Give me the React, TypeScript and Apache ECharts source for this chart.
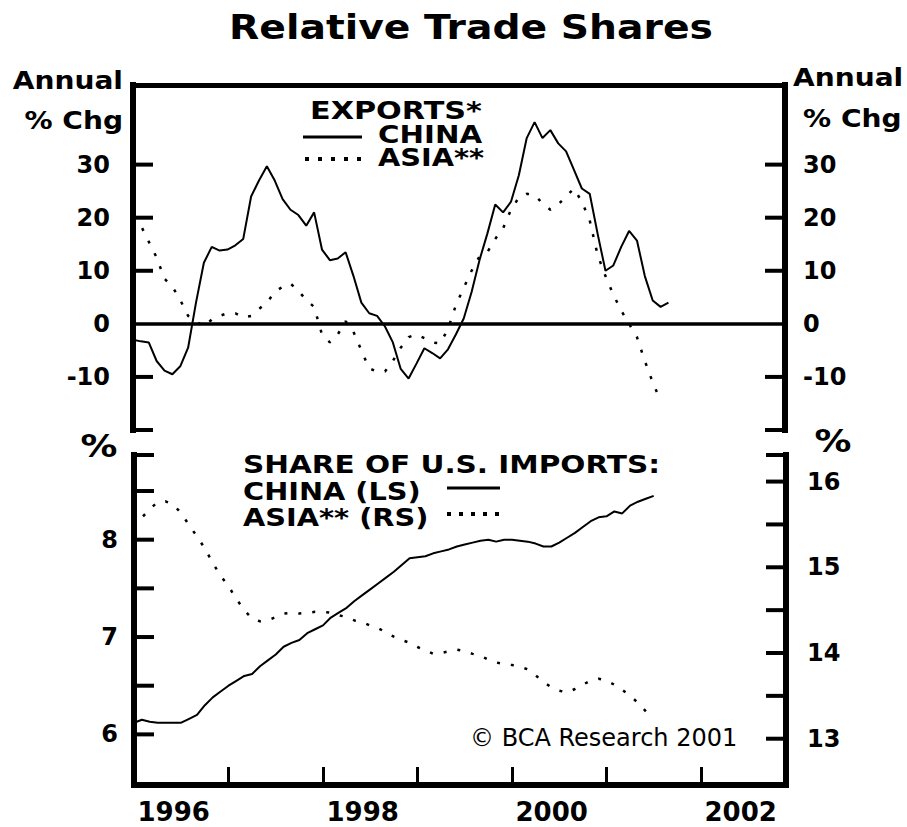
import React, { useEffect, useRef } from "react";
import * as echarts from "echarts";

// Monthly observations starting January 1996
const START_YEAR = 1996;

// Top panel: exports, annual % change
const chinaExports = [
  -3, -3.3, -3.5, -7, -8.8, -9.5, -8, -4.5, 4, 11.5, 14.5, 13.8,
  14, 14.8, 16, 24, 27, 29.7, 27, 23.5, 21.5, 20.5, 18.5, 21,
  14, 12, 12.3, 13.5, 9, 4, 2, 1.5, -0.5, -3.5, -8.5, -10.3,
  -7.5, -4.6, -5.5, -6.5, -4.8, -2, 1, 6, 12, 17, 22.5, 21,
  23, 28, 35, 38, 35, 36.5, 34, 32.5, 29, 25.5, 24.5, 17,
  10, 11, 14.5, 17.5, 15.7, 9, 4.4, 3.2, 4,
];
const asiaExports = [
  20, 18.5, 15.5, 12.5, 8.5, 7, 4.5, 1.5, 0.5, -0.5, 0.8, 1.5,
  2, 2, 1.2, 1.5, 2.8, 4, 6, 7, 7.6, 6.2, 4.5, 3.2,
  -2, -3.5, -2, 0.5, -1.5, -5, -8.4, -9, -9, -7, -4.5, -2.5,
  -2, -2.7, -3.5, -3.7, -1, 3.5, 6.8, 10, 12.7, 13.5, 16, 18,
  21.5, 23.8, 24.5, 24.3, 22.7, 21.5, 22.5, 24, 25.5, 23, 19.5, 13,
  9, 5.5, 2.5, 0, -2.5, -7, -11, -14.5,
];

// Bottom panel: share of U.S. imports, %
const chinaShare = [
  6.12, 6.15, 6.13, 6.12, 6.12, 6.12, 6.12, 6.16, 6.2, 6.3, 6.38, 6.44,
  6.5, 6.55, 6.6, 6.62, 6.7, 6.76, 6.82, 6.9, 6.94, 6.97, 7.04, 7.08,
  7.12, 7.2, 7.25, 7.3, 7.37, 7.43, 7.49, 7.55, 7.61, 7.67, 7.74, 7.81,
  7.82, 7.83, 7.86, 7.88, 7.9, 7.93, 7.95, 7.97, 7.99, 8.0, 7.98, 8.0,
  8.0, 7.99, 7.98, 7.96, 7.93, 7.93, 7.97, 8.02, 8.07, 8.13, 8.19, 8.23,
  8.24, 8.29, 8.27, 8.35, 8.39, 8.42, 8.45,
];
const asiaShare = [
  15.47, 15.58, 15.68, 15.76, 15.77, 15.73, 15.63, 15.49, 15.36, 15.22, 15.05, 14.9,
  14.78, 14.63, 14.5, 14.4, 14.37, 14.38, 14.42, 14.46, 14.47, 14.46, 14.47, 14.48,
  14.48, 14.47, 14.44, 14.42, 14.38, 14.36, 14.32, 14.29, 14.24, 14.19, 14.15, 14.12,
  14.07, 14.03, 13.99, 14.0, 14.02, 14.04, 14.02, 13.99, 13.97, 13.92, 13.89, 13.87,
  13.86, 13.84, 13.81, 13.74, 13.66, 13.6, 13.56, 13.54, 13.58, 13.63, 13.68, 13.7,
  13.68, 13.63, 13.57, 13.5, 13.42, 13.32,
];

// Axis ticks and labels
const X_MIN = 1996;
const X_MAX = 2002.9;
const yearTicks = [1997, 1998, 1999, 2000, 2001, 2002];
const yearLabels = [1996, 1998, 2000, 2002];
const exportTicks = [-20, -10, 10, 20, 30];
const exportLabels = [-10, 0, 10, 20, 30];
const chinaShareTicks = [6, 6.5, 7, 7.5, 8, 8.5, 8.87];
const chinaShareLabels = [6, 7, 8];
const asiaShareTicks = [13, 13.5, 14, 14.5, 15, 15.5, 16, 16.31];
const asiaShareLabels = [13, 14, 15, 16];

const toSeries = (arr: number[]) => arr.map((v, i) => [START_YEAR + i / 12, v]);

const FONT = '"DejaVu Sans", "Liberation Sans", sans-serif';
const INK = "#000000";
const TICK_LEN = 20;

function boldText(text: string, x: number, y: number, size: number, align: string, scaleX: number, weight = "bold") {
  return {
    type: "text",
    x,
    y,
    scaleX,
    silent: true,
    style: {
      text,
      fill: INK,
      font: `${weight} ${size}px ${FONT}`,
      textAlign: align,
      textVerticalAlign: "middle",
    },
  };
}

function hLine(x1: number, x2: number, y: number, width: number, dash?: number[]) {
  return {
    type: "line",
    silent: true,
    z: 10,
    shape: { x1, y1: y, x2, y2: y },
    style: { stroke: INK, lineWidth: width, lineDash: dash },
  };
}

const labelStyle = () => ({ fontFamily: FONT, fontWeight: "bold", fontSize: 24, color: INK });
const axisLineThick = () => ({ show: true, onZero: false, lineStyle: { color: INK, width: 6, cap: "square" } });

export default function App() {
  const ref = useRef<HTMLDivElement>(null);

  useEffect(() => {
    if (!ref.current) return;
    const chart = echarts.init(ref.current, null, { renderer: "svg" });

    const texts: any[] = [
      boldText("Relative Trade Shares", 471, 28, 33, "center", 1.19),
      boldText("Annual", 123, 81, 24, "right", 1.17),
      boldText("% Chg", 123, 121, 24, "right", 1.17),
      boldText("Annual", 793, 78, 24, "left", 1.17),
      boldText("% Chg", 803, 119, 24, "left", 1.17),
      boldText("%", 99, 446, 32, "center", 1.15),
      boldText("%", 833, 441, 32, "center", 1.15),
      boldText("EXPORTS*", 310, 111, 24, "left", 1.26),
      boldText("CHINA", 378, 134, 24, "left", 1.22),
      boldText("ASIA**", 378, 157, 24, "left", 1.2),
      hLine(303, 362, 137, 3),
      hLine(305, 362, 159, 4, [4, 9]),
      boldText("SHARE OF U.S. IMPORTS:", 243, 465, 24, "left", 1.23),
      boldText("CHINA (LS)", 243, 491, 24, "left", 1.2),
      boldText("ASIA** (RS)", 243, 517, 24, "left", 1.2),
      hLine(447, 500, 488, 3),
      hLine(447, 502, 514, 4, [4, 8]),
      boldText("\u00A9 BCA Research 2001", 470, 738, 24, "left", 1.0, "normal"),
    ];

    const yAxisBase = (gridIndex: number, position: string, min: number, max: number, margin: number, labels: number[]) => ({
      gridIndex,
      type: "value",
      position,
      min,
      max,
      axisLine: axisLineThick(),
      axisTick: { show: false },
      axisLabel: { ...labelStyle(), margin, customValues: labels },
      splitLine: { show: false },
    });

    const option: any = {
      animation: false,
      backgroundColor: "#ffffff",
      grid: [
        { left: 133, top: 85, width: 652, height: 345 },
        { left: 134, top: 455, width: 652, height: 330 },
      ],
      xAxis: [
        {
          gridIndex: 0,
          type: "value",
          position: "bottom",
          min: X_MIN,
          max: X_MAX,
          axisLine: { show: true, onZero: true, lineStyle: { color: INK, width: 3.5 } },
          axisTick: { show: false },
          axisLabel: { show: false },
          splitLine: { show: false },
        },
        {
          gridIndex: 0,
          type: "value",
          position: "top",
          min: X_MIN,
          max: X_MAX,
          axisLine: { show: true, onZero: false, lineStyle: { color: INK, width: 5, cap: "square" } },
          axisTick: { show: false },
          axisLabel: { show: false },
          splitLine: { show: false },
        },
        {
          gridIndex: 1,
          type: "value",
          position: "bottom",
          min: X_MIN,
          max: X_MAX,
          axisLine: axisLineThick(),
          axisTick: {
            show: true,
            inside: true,
            length: 18,
            lineStyle: { color: INK, width: 3 },
            customValues: yearTicks,
          },
          axisLabel: {
            ...labelStyle(),
            fontSize: 26,
            margin: 14,
            customValues: yearLabels.map((y) => y + 0.42),
            formatter: (v: number) => String(Math.floor(v)),
          },
          splitLine: { show: false },
        },
      ],
      yAxis: [
        yAxisBase(0, "left", -20, 45, 23, exportLabels),
        yAxisBase(0, "right", -20, 45, 18, exportLabels),
        yAxisBase(1, "left", 5.48, 8.87, 16, chinaShareLabels),
        yAxisBase(1, "right", 12.46, 16.31, 21, asiaShareLabels),
      ],
      series: [
        {
          name: "China exports",
          type: "line",
          xAxisIndex: 0,
          yAxisIndex: 0,
          data: toSeries(chinaExports),
          showSymbol: false,
          lineStyle: { color: INK, width: 2 },
          z: 5,
        },
        {
          name: "Asia exports",
          type: "line",
          xAxisIndex: 0,
          yAxisIndex: 0,
          data: toSeries(asiaExports),
          showSymbol: false,
          lineStyle: { color: INK, width: 2.5, type: [3, 11] },
          z: 5,
        },
        {
          name: "China share",
          type: "line",
          xAxisIndex: 2,
          yAxisIndex: 2,
          data: toSeries(chinaShare),
          showSymbol: false,
          lineStyle: { color: INK, width: 2 },
          z: 5,
        },
        {
          name: "Asia share",
          type: "line",
          xAxisIndex: 2,
          yAxisIndex: 3,
          data: toSeries(asiaShare),
          showSymbol: false,
          lineStyle: { color: INK, width: 2.5, type: [3, 11] },
          z: 5,
        },
      ],
      graphic: texts,
    };

    chart.setOption(option);

    // Inward tick marks on the vertical axes, positioned through the axes' own scales
    const ticks: any[] = [];
    const addTicks = (xAxisIndex: number, yAxisIndex: number, values: number[], xVal: number, dir: number) => {
      values.forEach((v) => {
        const p: any = chart.convertToPixel({ xAxisIndex, yAxisIndex } as any, [xVal, v]);
        if (!p || !isFinite(p[0]) || !isFinite(p[1])) return;
        ticks.push({
          type: "line",
          silent: true,
          z: 100,
          shape: { x1: p[0], y1: p[1], x2: p[0] + dir * TICK_LEN, y2: p[1] },
          style: { stroke: "#000000", lineWidth: 4 },
        });
      });
    };
    addTicks(0, 0, exportTicks, X_MIN, 1);
    addTicks(0, 1, exportTicks, X_MAX, -1);
    addTicks(2, 2, chinaShareTicks, X_MIN, 1);
    addTicks(2, 3, asiaShareTicks, X_MAX, -1);

    chart.setOption({ graphic: [...texts, ...ticks] });

    return () => chart.dispose();
  }, []);

  return (
    <div
      ref={ref}
      style={{ position: "fixed", left: 0, top: 0, width: 907, height: 827, background: "#fff" }}
    />
  );
}
